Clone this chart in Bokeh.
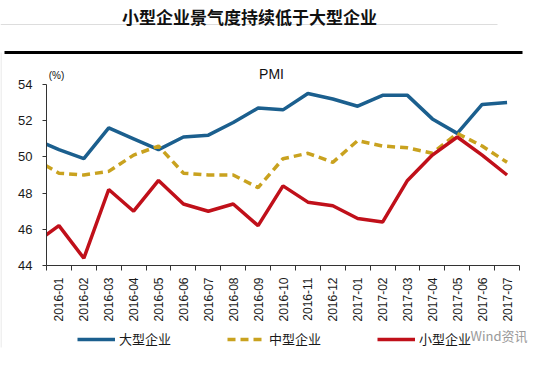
import math
from bokeh.plotting import figure
from bokeh.models import (Range1d, FixedTicker, Label, Legend, LegendItem,
                          BoxAnnotation)
from bokeh.embed import file_html
from bokeh.resources import INLINE

# ---- data ----
months = ["2015-12", "2016-01", "2016-02", "2016-03", "2016-04", "2016-05",
          "2016-06", "2016-07", "2016-08", "2016-09", "2016-10", "2016-11",
          "2016-12", "2017-01", "2017-02", "2017-03", "2017-04", "2017-05",
          "2017-06", "2017-07"]
large = [51.0, 50.4, 49.9, 51.6, 51.0, 50.4, 51.1, 51.2, 51.9, 52.7, 52.6,
         53.5, 53.2, 52.8, 53.4, 53.4, 52.1, 51.3, 52.9, 53.0]
medium = [49.9, 49.1, 49.0, 49.2, 50.1, 50.6, 49.1, 49.0, 49.0, 48.3, 49.9,
          50.2, 49.7, 50.9, 50.6, 50.5, 50.2, 51.3, 50.6, 49.7]
small = [45.2, 46.2, 44.4, 48.2, 47.0, 48.7, 47.4, 47.0, 47.4, 46.2, 48.4,
         47.5, 47.3, 46.6, 46.4, 48.7, 50.1, 51.1, 50.1, 49.0]
series_names = ["大型企业", "中型企业", "小型企业"]
y_ticks = [44, 46, 48, 50, 52, 54]
tick_labels = months[1:]

xs = list(range(-1, len(months) - 1))

FONT = "Liberation Sans"
CJK = "Noto Sans CJK SC"

# ---- layout: the frame covers the whole canvas; axes are pinned inside ----
W, H = 538, 351
plot_left, plot_right = 46, 519      # canvas px of the x extent (-0.5 .. n-0.5)
plot_top, plot_bottom = 84, 265      # canvas px of 54 .. 44
n = len(tick_labels)
x0, x1 = -0.5, n - 0.5
y0, y1 = y_ticks[0], y_ticks[-1]
sx = (plot_right - plot_left) / (x1 - x0)
sy = (plot_bottom - plot_top) / (y1 - y0)
xr = Range1d(x0 - plot_left / sx, x1 + (W - plot_right) / sx)
yr = Range1d(y0 - (H - plot_bottom) / sy, y1 + plot_top / sy)

p = figure(width=W, height=H, output_backend="svg", toolbar_location=None,
           x_range=xr, y_range=yr,
           min_border_left=0, min_border_right=0,
           min_border_top=0, min_border_bottom=0)
p.outline_line_color = None
p.grid.grid_line_color = None
p.background_fill_color = "white"
p.border_fill_color = "white"

r1 = p.line(xs, large, line_color="#1b5f8e", line_width=3.5, level="underlay")
r2 = p.line(xs, medium, line_color="#c9a21f", line_width=3.5, line_dash="8 5",
            level="underlay")
r3 = p.line(xs, small, line_color="#c0101a", line_width=3.5, level="underlay")

# mask the part of the lines left of the value axis
p.add_layout(BoxAnnotation(right=x0, fill_color="white", fill_alpha=1,
                           line_color=None, level="glyph"))

# x axis
xa = p.xaxis[0]
xa.fixed_location = y0
xa.bounds = (x0, x1)
xa.ticker = FixedTicker(ticks=list(range(n)),
                        minor_ticks=[i - 0.5 for i in range(n + 1)])
xa.major_label_overrides = {i: t for i, t in enumerate(tick_labels)}
xa.major_label_orientation = math.pi / 2
xa.major_tick_line_color = None
xa.minor_tick_line_color = "#333333"
xa.minor_tick_out = 5
xa.minor_tick_in = 0
xa.axis_line_color = "#333333"
xa.major_label_standoff = 6
xa.major_label_text_font = FONT
xa.major_label_text_font_size = "12px"
xa.major_label_text_color = "#1a1a1a"

# y axis
ya = p.yaxis[0]
ya.fixed_location = x0
ya.bounds = (y0, y1)
ya.ticker = FixedTicker(ticks=y_ticks, minor_ticks=[])
ya.major_tick_out = 4
ya.major_tick_in = 0
ya.major_tick_line_color = "#333333"
ya.axis_line_color = "#333333"
ya.major_label_standoff = 10
ya.major_label_text_font = FONT
ya.major_label_text_font_size = "13px"
ya.major_label_text_color = "#1a1a1a"

def sbox(left, right, bottom, top, color):
    return BoxAnnotation(left=left, right=right, bottom=bottom, top=top,
                         left_units="screen", right_units="screen",
                         bottom_units="screen", top_units="screen",
                         fill_color=color, fill_alpha=1, line_color=None)

# decorations (screen px from the canvas bottom-left)
p.add_layout(sbox(4, 522, 297.5, 300.5, "black"))
p.add_layout(sbox(0, 497, 326.5, 327.5, "#dddddd"))
p.add_layout(sbox(0, 1, 4, 299, "#e2e2e2"))

p.add_layout(Label(x=249, y=335, x_units="screen", y_units="screen",
                   text="小型企业景气度持续低于大型企业", text_font=CJK,
                   text_font_style="bold", text_font_size="17px",
                   text_align="center", text_baseline="middle",
                   text_color="#111111"))
p.add_layout(Label(x=271, y=278, x_units="screen", y_units="screen",
                   text="PMI", text_font=FONT, text_font_size="14px",
                   text_align="center", text_baseline="middle",
                   text_color="#111111"))
p.add_layout(Label(x=56, y=276, x_units="screen", y_units="screen",
                   text="(%)", text_font=FONT, text_font_size="10px",
                   text_align="center", text_baseline="middle",
                   text_color="#111111"))
p.add_layout(Label(x=470, y=16, x_units="screen", y_units="screen",
                   text="Wind资讯", text_font=CJK, text_font_size="13px",
                   text_align="left", text_baseline="middle",
                   text_color="#9a9a9a"))

legend = Legend(items=[LegendItem(label=series_names[0], renderers=[r1]),
                       LegendItem(label=series_names[1], renderers=[r2]),
                       LegendItem(label=series_names[2], renderers=[r3])],
                location=(77, 3), orientation="horizontal",
                glyph_width=38, glyph_height=18, label_standoff=4,
                spacing=56, padding=0, margin=0,
                border_line_color=None, background_fill_alpha=0,
                label_text_font=CJK, label_text_font_size="13px",
                label_text_color="#1a1a1a")
p.add_layout(legend, "center")

open("out.html", "w").write(file_html(p, INLINE))
